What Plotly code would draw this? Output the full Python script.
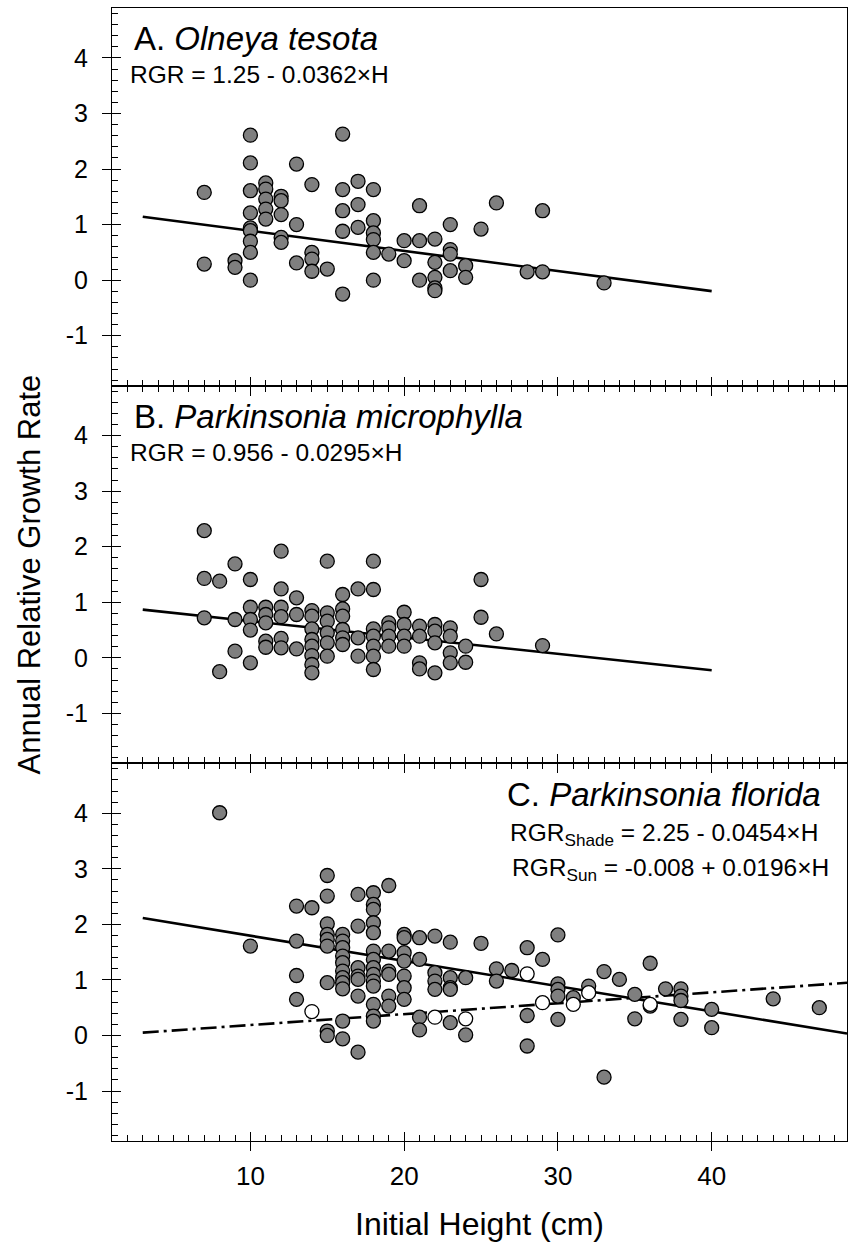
import plotly.graph_objects as go

FONT = "Arial, 'Liberation Sans', Helvetica, sans-serif"

# ---- A. Olneya tesota ----
ht_a = [7, 7, 9, 9,
        10, 10, 10, 10, 10, 10, 10, 10, 10,
        11, 11, 11, 11, 11,
        12, 12, 12, 12, 12,
        13, 13, 13,
        14, 14, 14, 14,
        15,
        16, 16, 16, 16, 16,
        17, 17, 17,
        18, 18, 18, 18, 18, 18,
        19, 20, 20,
        21, 21, 21,
        22, 22, 22, 22, 22,
        23, 23, 23, 23,
        24, 24, 25, 26, 28, 29, 29, 33]
rgr_a = [1.58, 0.29, 0.35, 0.23,
         2.61, 2.11, 1.61, 1.21, 0.94, 0.89, 0.70, 0.50, 0.00,
         1.75, 1.64, 1.46, 1.28, 1.10,
         1.51, 1.43, 1.18, 0.77, 0.68,
         2.09, 1.00, 0.31,
         1.72, 0.50, 0.38, 0.16,
         0.20,
         2.63, 1.63, 1.25, 0.88, -0.25,
         1.78, 1.36, 0.95,
         1.63, 1.07, 0.85, 0.73, 0.50, 0.00,
         0.47, 0.71, 0.35,
         1.34, 0.71, 0.00,
         0.74, 0.32, 0.05, -0.14, -0.19,
         1.00, 0.55, 0.47, 0.17,
         0.26, 0.05, 0.92, 1.39, 0.15, 1.25, 0.15, -0.05]

# ---- B. Parkinsonia microphylla ----
ht_b = [7, 7, 7, 8, 8,
        9, 9, 9,
        10, 10, 10, 10, 10,
        11, 11, 11, 11, 11,
        12, 12, 12, 12, 12, 12,
        13, 13, 13,
        14, 14, 14, 14, 14, 14, 14, 14,
        15, 15, 15, 15, 15, 15,
        16, 16, 16, 16, 16, 16,
        17, 17, 17,
        18, 18, 18, 18, 18, 18, 18,
        19, 19, 19, 19,
        20, 20, 20, 20,
        21, 21, 21, 21,
        22, 22, 22, 22,
        23, 23, 23, 23,
        24, 24, 25, 25, 26, 29]
rgr_b = [2.29, 1.43, 0.72, 1.38, -0.25,
         1.69, 0.69, 0.12,
         1.41, 0.91, 0.69, 0.50, -0.09,
         0.91, 0.78, 0.63, 0.30, 0.19,
         1.92, 1.24, 0.91, 0.74, 0.35, 0.18,
         1.08, 0.78, 0.16,
         0.85, 0.75, 0.52, 0.33, 0.21, 0.04, -0.12, -0.27,
         1.74, 0.81, 0.66, 0.45, 0.27, 0.03,
         1.14, 0.88, 0.75, 0.51, 0.36, 0.24,
         1.24, 0.36, 0.03,
         1.74, 1.23, 0.52, 0.39, 0.21, 0.03, -0.21,
         0.63, 0.54, 0.39, 0.21,
         0.82, 0.60, 0.39, 0.21,
         0.57, 0.39, -0.09, -0.20,
         0.60, 0.48, 0.27, -0.27,
         0.54, 0.39, 0.09, -0.09,
         0.21, -0.08, 1.41, 0.73, 0.43, 0.22]

# ---- C. Parkinsonia florida, shaded plants ----
ht_c_shade = [8, 10,
              13, 13, 13, 13,
              14,
              15, 15, 15, 15, 15, 15, 15, 15, 15,
              16, 16, 16, 16, 16, 16, 16, 16, 16, 16, 16,
              17, 17, 17, 17, 17, 17, 17,
              18, 18, 18, 18, 18, 18, 18, 18, 18, 18, 18, 18, 18, 18,
              19, 19, 19, 19, 19, 19,
              20, 20, 20, 20, 20, 20, 20,
              21, 21, 21, 21,
              22, 22, 22, 22,
              23, 23, 23, 23, 23,
              24, 24, 25, 26, 26, 27,
              28, 28, 28, 29,
              30, 30, 30, 30, 30,
              31, 32, 33, 33, 34, 35, 35, 36, 36,
              37, 38, 38, 38, 38, 40, 40, 44, 47]
rgr_c_shade = [4.01, 1.61,
               2.33, 1.70, 1.08, 0.65,
               2.30,
               2.88, 2.51, 2.01, 1.82, 1.73, 1.61, 0.95, 0.08, 0.00,
               1.82, 1.70, 1.58, 1.43, 1.31, 1.16, 1.04, 0.95, 0.84, 0.26, -0.06,
               2.54, 1.97, 1.22, 1.07, 1.01, 0.71, -0.30,
               2.57, 2.36, 2.27, 2.03, 1.85, 1.52, 1.37, 1.22, 1.10, 0.98, 0.89, 0.56, 0.35, 0.26,
               2.70, 1.52, 1.16, 1.10, 0.71, 0.53,
               1.82, 1.76, 1.49, 1.34, 1.07, 0.86, 0.65,
               1.76, 1.37, 0.33, 0.10,
               1.79, 1.13, 0.98, 0.83,
               1.68, 1.04, 0.86, 0.83, 0.23,
               1.04, 0.01, 1.66, 1.20, 0.98, 1.17,
               1.58, 0.36, -0.19, 1.37,
               1.81, 0.93, 0.83, 0.71, 0.29,
               0.68, 0.89, 1.15, -0.75, 1.01, 0.74, 0.30, 1.30, 0.53,
               0.84, 0.84, 0.71, 0.63, 0.29, 0.47, 0.14, 0.66, 0.50]

# ---- C. Parkinsonia florida, plants in sun ----
ht_c_sun = [14, 22, 24, 28, 29, 31, 32, 36]
rgr_c_sun = [0.43, 0.33, 0.30, 1.11, 0.59, 0.56, 0.77, 0.56]

# regression fits (intercept, slope) and the height span each is drawn over
fit_a = (1.25, -0.0362)
fit_b = (0.956, -0.0295)
fit_shade = (2.25, -0.0454)
fit_sun = (-0.008, 0.0196)
span_ab = (3, 40)
span_c = (3, 48.8)

X_RANGE = [1, 48.8]
Y_RANGE = [-1.9, 4.9]
x_ticks = [10, 20, 30, 40]
y_ticks = [-1, 0, 1, 2, 3, 4]
y_ticktext = ["-1", "0", "1", "2", "3", "4"]

GREY = "#7f7f7f"
MARKER_SIZE = 14

fig = go.Figure()


def fit_line(fit, span):
    a, b = fit
    return list(span), [a + b * span[0], a + b * span[1]]


def add_points(x, y, fill, xa, ya):
    fig.add_trace(go.Scatter(
        x=x, y=y, mode="markers", xaxis=xa, yaxis=ya, showlegend=False,
        marker=dict(size=MARKER_SIZE, color=fill,
                    line=dict(color="black", width=1.3)),
        cliponaxis=False))


def add_fit(fit, span, dash, xa, ya):
    lx, ly = fit_line(fit, span)
    fig.add_trace(go.Scatter(
        x=lx, y=ly, mode="lines", xaxis=xa, yaxis=ya, showlegend=False,
        line=dict(color="black", width=2.6, dash=dash)))


# panel A
add_fit(fit_a, span_ab, "solid", "x", "y")
add_points(ht_a, rgr_a, GREY, "x", "y")
# panel B
add_fit(fit_b, span_ab, "solid", "x2", "y2")
add_points(ht_b, rgr_b, GREY, "x2", "y2")
# panel C
add_fit(fit_shade, span_c, "solid", "x3", "y3")
add_fit(fit_sun, span_c, "16px,5px,3px,5px", "x3", "y3")
add_points(ht_c_shade, rgr_c_shade, GREY, "x3", "y3")
add_points(ht_c_sun, rgr_c_sun, "white", "x3", "y3")

# empty traces that bring up the companion axes carrying the outer tick halves
for i in range(3):
    fig.add_trace(go.Scatter(x=[], y=[], xaxis=f"x{i + 4}",
                             yaxis="y" if i == 0 else f"y{i + 1}",
                             showlegend=False, hoverinfo="skip"))
    fig.add_trace(go.Scatter(x=[], y=[], xaxis="x" if i == 0 else f"x{i + 1}",
                             yaxis=f"y{i + 4}",
                             showlegend=False, hoverinfo="skip"))

domains = [[2 / 3, 1], [1 / 3, 2 / 3], [0, 1 / 3]]
layout = {}
for i in range(3):
    xid = "x" if i == 0 else f"x{i + 1}"
    yid = "y" if i == 0 else f"y{i + 1}"
    xkey = "xaxis" if i == 0 else f"xaxis{i + 1}"
    ykey = "yaxis" if i == 0 else f"yaxis{i + 1}"
    layout[xkey] = dict(
        range=X_RANGE, domain=[0, 1], anchor=yid,
        showline=True, linecolor="black", linewidth=1.3,
        mirror=True if i == 0 else "ticks",
        ticks="inside", ticklen=9, tickwidth=1.2, tickcolor="black",
        tickvals=x_ticks, showticklabels=False,
        showgrid=False, zeroline=False,
        minor=dict(ticks="inside", ticklen=6, tickwidth=1, tickcolor="black",
                   dtick=1, tick0=0, showgrid=False))
    layout[ykey] = dict(
        range=Y_RANGE, domain=domains[i], anchor=xid,
        showline=True, linecolor="black", linewidth=1.3, mirror=True,
        ticks="inside", ticklen=9, tickwidth=1.2, tickcolor="black",
        tickvals=y_ticks, showticklabels=False,
        showgrid=False, zeroline=False,
        minor=dict(ticks="inside", ticklen=6, tickwidth=1, tickcolor="black",
                   dtick=0.2, tick0=0, showgrid=False))
    layout[f"xaxis{i + 4}"] = dict(
        range=X_RANGE, overlaying=xid, anchor=yid, side="bottom",
        showline=False, ticks="outside", ticklen=9, tickwidth=1.2,
        tickcolor="black", tickvals=x_ticks,
        ticktext=[str(v) for v in x_ticks],
        showticklabels=(i == 2), ticklabelstandoff=3,
        tickfont=dict(size=26, color="black", family=FONT),
        showgrid=False, zeroline=False)
    layout[f"yaxis{i + 4}"] = dict(
        range=Y_RANGE, overlaying=yid, anchor=xid, side="left",
        showline=False, ticks="outside", ticklen=9, tickwidth=1.2,
        tickcolor="black", tickvals=y_ticks, ticktext=y_ticktext,
        ticklabelstandoff=9,
        tickfont=dict(size=25, color="black", family=FONT),
        showgrid=False, zeroline=False)

fig.update_layout(**layout)

annotations = [
    # panel titles and fitted equations
    dict(xref="x domain", yref="y domain", x=0.027, y=0.918,
         text="A. <i>Olneya tesota</i>", font=dict(size=33)),
    dict(xref="x domain", yref="y domain", x=0.022, y=0.823,
         text="RGR = 1.25 - 0.0362×H", font=dict(size=24.5)),
    dict(xref="x2 domain", yref="y2 domain", x=0.027, y=0.918,
         text="B. <i>Parkinsonia microphylla</i>", font=dict(size=33)),
    dict(xref="x2 domain", yref="y2 domain", x=0.022, y=0.823,
         text="RGR = 0.956 - 0.0295×H", font=dict(size=24.5)),
    dict(xref="x3 domain", yref="y3 domain", x=0.967, y=0.918, xanchor="right",
         text="C. <i>Parkinsonia florida</i>", font=dict(size=33)),
    dict(xref="x3 domain", yref="y3 domain", x=0.539, y=0.812,
         text="RGR<sub>Shade</sub> = 2.25 - 0.0454×H", font=dict(size=24.5)),
    dict(xref="x3 domain", yref="y3 domain", x=0.541, y=0.720,
         text="RGR<sub>Sun</sub> = -0.008 + 0.0196×H", font=dict(size=24.5)),
    # axis titles
    dict(xref="paper", yref="paper", x=0.5, y=-0.0733, xanchor="center",
         text="Initial Height (cm)", font=dict(size=32)),
    dict(xref="paper", yref="paper", x=-0.1116, y=0.5, xanchor="center",
         textangle=-90, text="Annual Relative Growth Rate", font=dict(size=31)),
]
for a in annotations:
    a.setdefault("xanchor", "left")
    a.setdefault("yanchor", "middle")
    a["showarrow"] = False
    a["font"].update(family=FONT, color="black")
fig.update_layout(annotations=annotations)

fig.update_layout(
    width=851, height=1251,
    margin=dict(l=112, r=4, t=8, b=110),
    paper_bgcolor="white", plot_bgcolor="white",
    font=dict(family=FONT, color="black"),
    showlegend=False,
)

fig.write_html("out.html")
